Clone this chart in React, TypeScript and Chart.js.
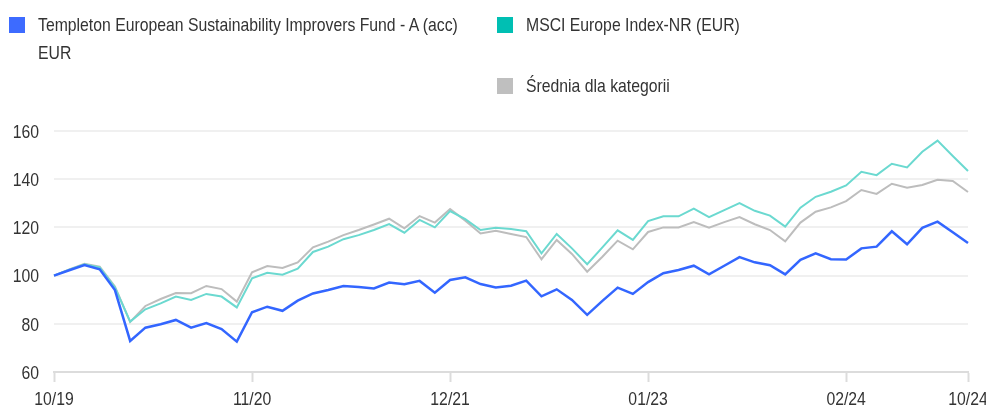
import React, { useEffect, useRef } from "react";
import { Chart, registerables } from "chart.js";

Chart.register(...registerables);

const FONT = "'Liberation Sans', Arial, sans-serif";
const NARROW = 0.83;

const months: string[] = [
  "10/19", "11/19", "12/19",
  "01/20", "02/20", "03/20", "04/20", "05/20", "06/20", "07/20", "08/20", "09/20", "10/20", "11/20", "12/20",
  "01/21", "02/21", "03/21", "04/21", "05/21", "06/21", "07/21", "08/21", "09/21", "10/21", "11/21", "12/21",
  "01/22", "02/22", "03/22", "04/22", "05/22", "06/22", "07/22", "08/22", "09/22", "10/22", "11/22", "12/22",
  "01/23", "02/23", "03/23", "04/23", "05/23", "06/23", "07/23", "08/23", "09/23", "10/23", "11/23", "12/23",
  "01/24", "02/24", "03/24", "04/24", "05/24", "06/24", "07/24", "08/24", "09/24", "10/24",
];

const shownTicks: string[] = ["10/19", "11/20", "12/21", "01/23", "02/24", "10/24"];

const fundValues: number[] = [
  100, 102.2, 104.4, 102.6, 94, 72.9, 78.4, 79.8, 81.6, 78.4,
  80.3, 77.8, 72.6, 84.8, 87.1, 85.4, 89.6, 92.6, 94, 95.7,
  95.3, 94.7, 97.1, 96.4, 97.8, 92.9, 98.2, 99.3, 96.5, 95.1,
  95.8, 97.9, 91.4, 94.3, 89.9, 83.7, 89.5, 95, 92.4, 97.3,
  101, 102.3, 104.1, 100.5, 104.1, 107.7, 105.5, 104.3, 100.5, 106.5,
  109.2, 106.8, 106.7, 111.3, 112, 118.4, 113, 119.8, 122.4, 118,
  113.5,
];

const indexValues: number[] = [
  100, 102.5, 104.7, 103.4, 95.1, 80.9, 86, 88.5, 91.3, 89.9,
  92.4, 91.3, 86.8, 98.9, 101.2, 100.4, 102.9, 109.8, 112, 115.1,
  116.8, 118.9, 121.4, 117.8, 123.1, 120, 126.8, 123.4, 118.9, 119.9,
  119.3, 118.4, 109.2, 117.3, 111.3, 104.7, 111.7, 118.8, 114.8, 122.6,
  124.6, 124.6, 127.8, 124.3, 127.2, 130.1, 126.9, 124.9, 120.3, 128.2,
  132.7, 134.8, 137.4, 143.1, 141.7, 146.4, 144.9, 151.4, 156, 149.6,
  143.4,
];

const categoryValues: number[] = [
  100, 102.6, 104.9, 103.7, 95.5, 80.8, 87.4, 90.3, 92.8, 92.7,
  95.7, 94.4, 89.2, 101.4, 104, 103.2, 105.5, 111.7, 114.1, 116.8,
  118.9, 121.2, 123.6, 119.6, 124.7, 122, 127.6, 122.8, 117.5, 118.6,
  117.3, 116, 106.8, 114.8, 109, 101.6, 107.8, 114.5, 110.9, 118.1,
  120, 120, 122.2, 119.9, 122.2, 124.3, 121.3, 118.9, 114.2, 122,
  126.5, 128.3, 130.9, 135.5, 133.9, 138.1, 136.5, 137.6, 139.8, 139.3,
  134.7,
];

const seriesNames: string[] = [
  "Templeton European Sustainability Improvers Fund - A (acc)",
  "EUR",
  "MSCI Europe Index-NR (EUR)",
  "Średnia dla kategorii",
];

const yTicks: number[] = [60, 80, 100, 120, 140, 160];

const TEXT_COLOR = "#333333";

// draws the axis tick labels in a horizontally condensed face, at the library's tick pixels
const narrowTickLabels = {
  id: "narrowTickLabels",
  afterDraw(chart: any) {
    const ctx: CanvasRenderingContext2D = chart.ctx;
    const xs = chart.scales.x;
    const ys = chart.scales.y;
    ctx.save();
    ctx.font = `19px ${FONT}`;
    ctx.fillStyle = TEXT_COLOR;
    ctx.textBaseline = "alphabetic";
    xs.ticks.forEach((t: any) => {
      const px = xs.getPixelForValue(t.value);
      ctx.save();
      ctx.translate(px, xs.top + 33);
      ctx.scale(NARROW, 1);
      ctx.textAlign = "center";
      ctx.fillText(months[t.value], 0, 0);
      ctx.restore();
    });
    ys.ticks.forEach((t: any) => {
      const py = ys.getPixelForValue(t.value);
      ctx.save();
      ctx.translate(ys.right - 15, py + 6.8);
      ctx.scale(NARROW, 1);
      ctx.textAlign = "right";
      ctx.fillText(String(t.value), 0, 0);
      ctx.restore();
    });
    ctx.restore();
  },
};

const legendSquare = (color: string, left: number, top: number): React.CSSProperties => ({
  position: "absolute",
  left,
  top,
  width: 16,
  height: 16,
  background: color,
});

const legendText = (left: number, top: number): React.CSSProperties => ({
  position: "absolute",
  left,
  top,
  fontFamily: FONT,
  fontSize: 19,
  lineHeight: "28px",
  color: TEXT_COLOR,
  whiteSpace: "nowrap",
  transform: `scaleX(${NARROW})`,
  transformOrigin: "left top",
});

export default function App() {
  const canvasRef = useRef<HTMLCanvasElement | null>(null);

  useEffect(() => {
    if (!canvasRef.current) return;
    const chart = new Chart(canvasRef.current, {
      type: "line",
      data: {
        labels: months,
        datasets: [
          {
            label: seriesNames[0] + " " + seriesNames[1],
            data: fundValues,
            borderColor: "#3366ff",
            borderWidth: 2.5,
            pointRadius: 0,
            tension: 0,
          },
          {
            label: seriesNames[2],
            data: indexValues,
            borderColor: "#6bd9d0",
            borderWidth: 2,
            pointRadius: 0,
            tension: 0,
          },
          {
            label: seriesNames[3],
            data: categoryValues,
            borderColor: "#bdbdbd",
            borderWidth: 2,
            pointRadius: 0,
            tension: 0,
          },
        ],
      },
      options: {
        animation: false,
        responsive: false,
        maintainAspectRatio: false,
        layout: { padding: { top: 131, right: 18, bottom: 0, left: 0 } },
        plugins: { legend: { display: false }, tooltip: { enabled: false } },
        scales: {
          x: {
            type: "category",
            offset: false,
            afterBuildTicks: (scale: any) => {
              scale.ticks = scale.ticks.filter((t: any) => shownTicks.includes(months[t.value]));
            },
            afterFit: (scale: any) => {
              scale.height = 39;
              scale.paddingLeft = 0;
              scale.paddingRight = 0;
            },
            ticks: { display: false, autoSkip: false, maxRotation: 0, minRotation: 0 },
            grid: {
              drawOnChartArea: false,
              drawTicks: true,
              tickLength: 10,
              tickColor: "#dcdcdc",
              tickWidth: 2,
            },
            border: { display: true, color: "#dcdcdc", width: 2 },
          },
          y: {
            min: yTicks[0],
            max: yTicks[yTicks.length - 1],
            afterBuildTicks: (scale: any) => {
              scale.ticks = yTicks.map((v) => ({ value: v }));
            },
            afterFit: (scale: any) => {
              scale.width = 54;
              scale.paddingTop = 0;
              scale.paddingBottom = 0;
            },
            ticks: { display: false },
            grid: {
              color: "#f0f0f0",
              lineWidth: 2,
              drawTicks: false,
            },
            border: { display: false },
          },
        },
      },
      plugins: [narrowTickLabels],
    });
    return () => chart.destroy();
  }, []);

  return (
    <div style={{ position: "absolute", left: 0, top: 0, width: 986, height: 411, background: "#fff" }}>
      <canvas
        ref={canvasRef}
        width={986}
        height={411}
        style={{ position: "absolute", left: 0, top: 0, width: 986, height: 411 }}
      />
      <div style={legendSquare("#3d6bff", 9, 17)} />
      <div style={legendText(38, 11)}>
        {seriesNames[0]}
        <br />
        {seriesNames[1]}
      </div>
      <div style={legendSquare("#00bfb3", 497, 17)} />
      <div style={legendText(526, 11)}>{seriesNames[2]}</div>
      <div style={legendSquare("#bfbfbf", 497, 78)} />
      <div style={legendText(526, 72)}>{seriesNames[3]}</div>
    </div>
  );
}
